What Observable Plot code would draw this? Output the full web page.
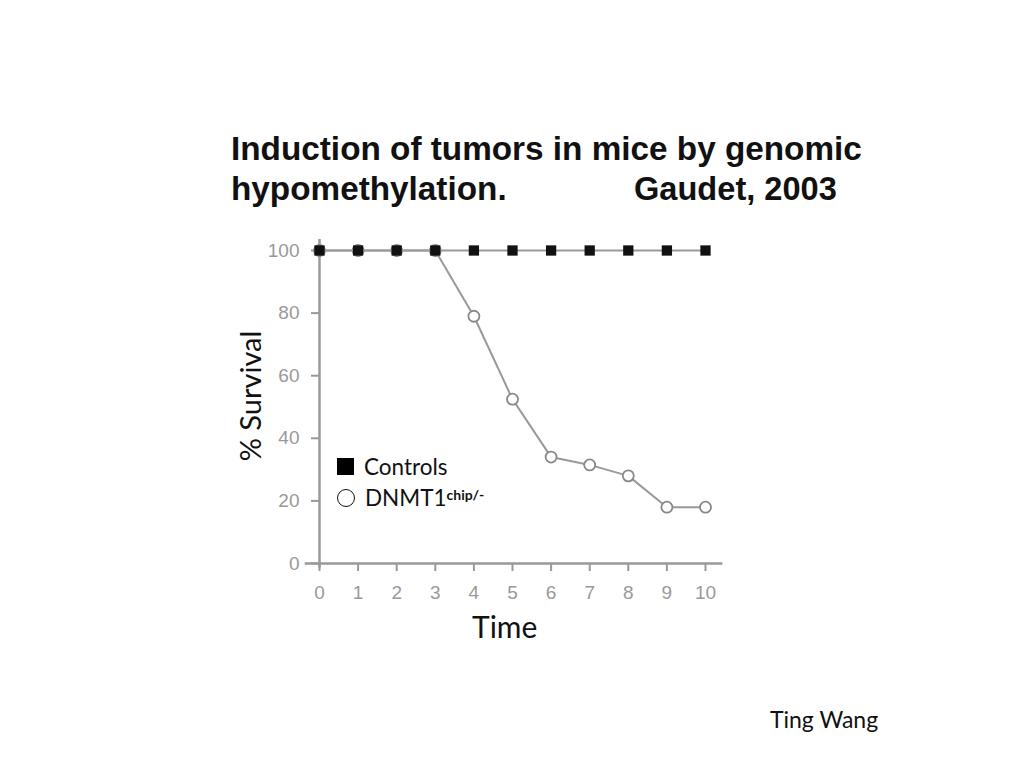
<!DOCTYPE html>
<html>
<head>
<meta charset="utf-8">
<script src="https://cdn.jsdelivr.net/npm/d3@7"></script>
<script src="https://cdn.jsdelivr.net/npm/@observablehq/plot@0.6"></script>
<style>
  html, body { margin: 0; padding: 0; background: #fff; }
  #wrap { position: relative; width: 1024px; height: 768px; overflow: hidden; }
  #chart { position: absolute; left: 0; top: 0; }
  .abs { position: absolute; white-space: nowrap; }
  .title { font-family: "Liberation Sans", Arial, sans-serif; font-weight: bold; font-size: 33.3px; color: #111; }
  .cal { font-family: Lato, "Open Sans", sans-serif; color: #111; }
</style>
</head>
<body>
<div id="wrap">
  <div id="chart"></div>
  <div class="abs title" style="left:231px; top:130px;">Induction of tumors in mice by genomic</div>
  <div class="abs title" style="left:231px; top:170px;">hypomethylation.</div>
  <div class="abs title" style="left:634px; top:170px; font-size:32.6px;">Gaudet, 2003</div>
  <div class="abs cal" style="top:396px; left:249px; width:150px; text-align:center; font-size:29px; transform: translate(-50%,-50%) rotate(-90deg); transform-origin: center;">% Survival</div>
  <div class="abs cal" style="left:472px; top:608px; font-size:30px;">Time</div>
  <div id="legend"></div>
  <div class="abs cal" style="left:770px; top:705px; font-size:23px;">Ting Wang</div>
</div>
<script>
const timePoints = [0, 1, 2, 3, 4, 5, 6, 7, 8, 9, 10];
const controlsSurvival = [100, 100, 100, 100, 100, 100, 100, 100, 100, 100, 100];
const dnmt1Survival = [100, 100, 100, 100, 79, 52.5, 34, 31.5, 28, 18, 18];
const yTicks = [0, 20, 40, 60, 80, 100];
const xTicks = [0, 1, 2, 3, 4, 5, 6, 7, 8, 9, 10];
const legendLabels = ["Controls", "DNMT1"];
const legendSup = ["", "chip/-"];

const controls = timePoints.map((t, i) => ({time: t, survival: controlsSurvival[i]}));
const dnmt1 = timePoints.map((t, i) => ({time: t, survival: dnmt1Survival[i]}));

const gray = "#999";
const plot = Plot.plot({
  width: 1024,
  height: 768,
  marginLeft: 319,
  marginRight: 319,
  marginTop: 250,
  marginBottom: 205,
  style: {background: "transparent", fontFamily: "'Liberation Sans', Arial, sans-serif"},
  x: {domain: [0, 10]},
  y: {domain: [0, 100]},
  marks: [
    Plot.ruleY([0], {x1: -0.37, x2: 10.45, stroke: gray, strokeWidth: 2.5}),
    Plot.ruleX([0], {y1: -1.5, y2: 103.5, stroke: gray, strokeWidth: 2.5}),
    Plot.axisY({ticks: yTicks, tickSize: 8, tickPadding: 12, fontSize: 19, color: gray, strokeWidth: 2, label: null}),
    Plot.axisX({ticks: xTicks, tickSize: 8, tickPadding: 14, fontSize: 19, color: gray, strokeWidth: 2, label: null}),
    Plot.line(dnmt1, {x: "time", y: "survival", stroke: "#999", strokeWidth: 2}),
    Plot.dot(dnmt1, {x: "time", y: "survival", r: 5.5, fill: "white", stroke: "#888", strokeWidth: 1.8}),
    Plot.line(controls, {x: "time", y: "survival", stroke: "#999", strokeWidth: 2}),
    Plot.dot(controls, {x: "time", y: "survival", symbol: "square", r: 5.8, fill: "#111", stroke: "none"})
  ]
});
document.getElementById("chart").appendChild(plot);

// legend (HTML overlay)
const legend = document.getElementById("legend");
legendLabels.forEach((lab, i) => {
  const row = document.createElement("div");
  row.className = "abs cal";
  row.style.left = "337px";
  row.style.top = (453 + i * 31) + "px";
  row.style.fontSize = "22.5px";
  row.style.display = "flex";
  row.style.alignItems = "center";
  const sw = document.createElement("span");
  sw.style.display = "inline-block";
  sw.style.width = "17px";
  sw.style.height = "17px";
  sw.style.marginRight = "10px";
  sw.style.boxSizing = "border-box";
  if (i === 0) { sw.style.background = "#000"; }
  else { sw.style.border = "1.5px solid #111"; sw.style.borderRadius = "50%"; sw.style.width = "18px"; sw.style.height = "18px"; }
  row.appendChild(sw);
  const t = document.createElement("span");
  t.textContent = lab;
  row.appendChild(t);
  if (legendSup[i]) {
    const s = document.createElement("sup");
    s.textContent = legendSup[i];
    s.style.fontSize = "14px";
    s.style.fontWeight = "bold";
    s.style.position = "relative";
    s.style.top = "-3px";
    row.appendChild(s);
  }
  legend.appendChild(row);
});
</script>
</body>
</html>
